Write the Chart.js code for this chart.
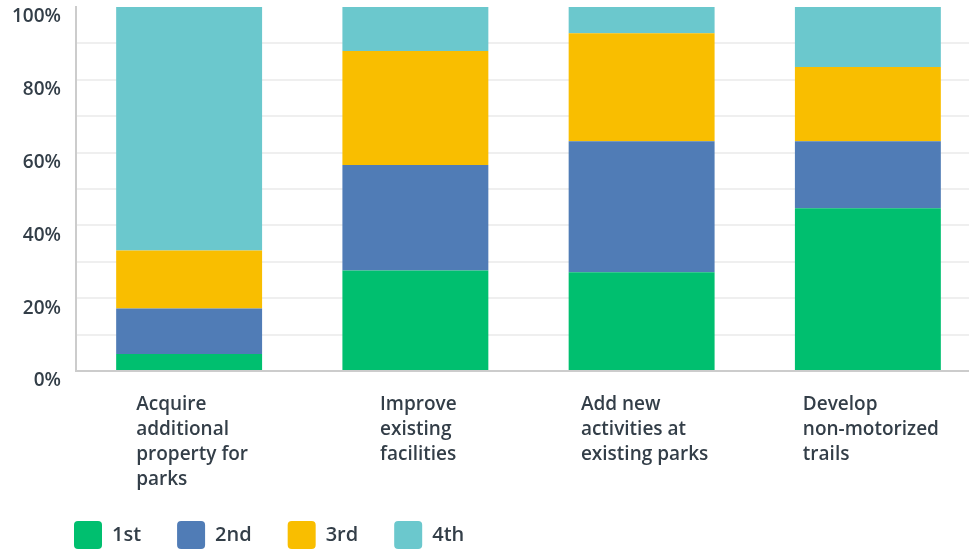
<!DOCTYPE html>
<html>
<head>
<meta charset="utf-8">
<script src="https://cdn.jsdelivr.net/npm/chart.js@4"></script>
<style>
  html, body { margin: 0; padding: 0; background: #fff; overflow: hidden; }
  #wrap { width: 981px; height: 559px; }
</style>
</head>
<body>
<div id="wrap"><canvas id="chart" width="981" height="559"></canvas></div>
<script>
// Kategorie (etykiety osi X, łamane na linie)
const categories = [
  ['Acquire', 'additional', 'property for', 'parks'],
  ['Improve', 'existing', 'facilities'],
  ['Add new', 'activities at', 'existing parks'],
  ['Develop', 'non-motorized', 'trails']
];

// Udział odpowiedzi w procentach dla każdego miejsca w rankingu
const rank1st = [4.7, 27.6, 27.1, 44.7];
const rank2nd = [12.5, 29.0, 36.0, 18.4];
const rank3rd = [15.9, 31.3, 29.7, 20.4];
const rank4th = [66.9, 12.1, 7.2, 16.5];

const seriesNames = ['1st', '2nd', '3rd', '4th'];
const seriesColors = ['#00bf6f', '#507cb6', '#f9be00', '#6bc8cd'];

// Podziałka osi Y: linie co 10%, opisy co 20%
const yMax = 100;
const yStep = 10;
const yLabelEvery = 20;

const textColor = '#333e48';
const fontFamily = '"Open Sans", sans-serif';
const legendPad = 36;

// Własne rysowanie etykiet osi X: blok wyśrodkowany pod słupkiem, linie wyrównane do lewej
const xLabelsPlugin = {
  id: 'xLabels',
  afterLayout(chart) {
    // legenda zaczyna się na wysokości osi Y, a nie od krawędzi
    chart.legend.left = 74 - legendPad;
  },
  afterDraw(chart) {
    const ctx = chart.ctx;
    const xScale = chart.scales.x;
    const top = chart.chartArea.bottom + 34;
    const lineH = 25;
    ctx.save();
    ctx.font = '600 19px ' + fontFamily;
    ctx.fillStyle = textColor;
    ctx.textAlign = 'left';
    ctx.textBaseline = 'middle';
    categories.forEach((lines, i) => {
      const cx = xScale.getPixelForTick(i) + 3;
      const w = Math.max(...lines.map(l => ctx.measureText(l).width));
      lines.forEach((line, j) => ctx.fillText(line, cx - w / 2, top + j * lineH));
    });
    ctx.restore();
  }
};

const data = [rank1st, rank2nd, rank3rd, rank4th];

new Chart(document.getElementById('chart'), {
  type: 'bar',
  data: {
    labels: categories.map(c => c.join(' ')),
    datasets: data.map((vals, i) => ({
      label: seriesNames[i],
      data: vals,
      backgroundColor: seriesColors[i],
      borderWidth: 0,
      categoryPercentage: 1,
      barPercentage: 0.645
    }))
  },
  options: {
    responsive: false,
    animation: false,
    layout: { padding: { top: 7, left: 0, right: 0, bottom: 0 } },
    plugins: {
      tooltip: { enabled: false },
      legend: {
        position: 'bottom',
        align: 'start',
        labels: {
          boxWidth: 28,
          boxHeight: 28,
          padding: legendPad,
          useBorderRadius: true,
          borderRadius: 4,
          color: textColor,
          font: { family: fontFamily, size: 20, weight: '600' }
        }
      }
    },
    scales: {
      x: {
        stacked: true,
        grid: { display: false },
        border: { color: '#cccccc', width: 2 },
        ticks: { display: false },
        afterFit(scale) {
          scale.height = 150 - legendPad;
          scale.paddingLeft = 0;
          scale.paddingRight = 0;
        }
      },
      y: {
        stacked: true,
        min: 0,
        max: yMax,
        border: { color: '#cccccc', width: 2 },
        grid: {
          drawTicks: false,
          lineWidth: 2,
          color: c => (c.tick.value === 0 || c.tick.value === yMax) ? 'rgba(0,0,0,0)' : '#efefef'
        },
        ticks: {
          stepSize: yStep,
          padding: 15,
          labelOffset: 10,
          color: textColor,
          font: { family: fontFamily, size: 19, weight: '600' },
          callback: v => (v % yLabelEvery === 0 ? v + '%' : '')
        },
        afterFit(scale) {
          scale.width = 76;
          scale.paddingTop = 0;
          scale.paddingBottom = 0;
        }
      }
    }
  },
  plugins: [xLabelsPlugin]
});
</script>
</body>
</html>
